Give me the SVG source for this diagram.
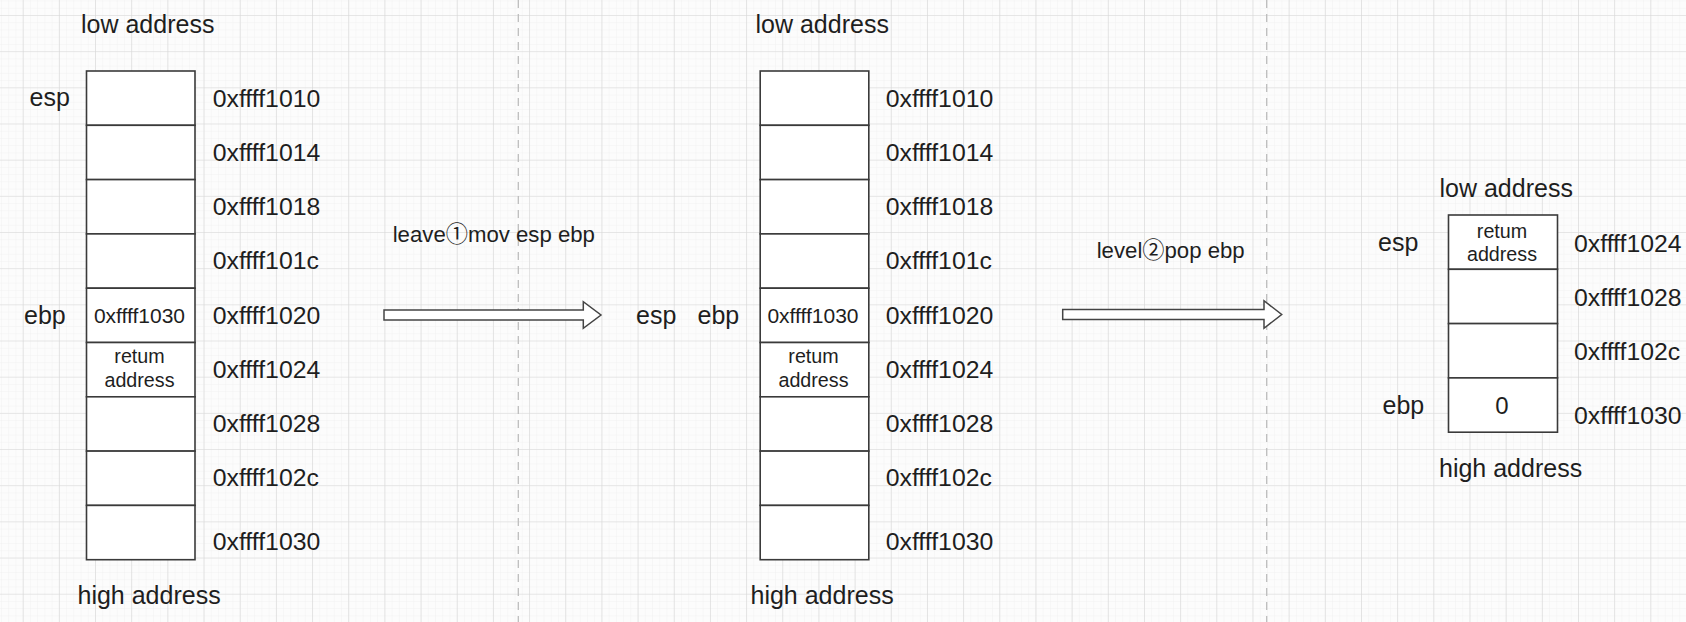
<svg xmlns="http://www.w3.org/2000/svg" width="1686" height="622" viewBox="0 0 1686 622">
<defs>
<pattern id="minor" patternUnits="userSpaceOnUse" x="22.7" y="15" width="7.234" height="7.234">
<path d="M0 0 H7.234 M0 0 V7.234" fill="none" stroke="#efefef" stroke-width="0.8"/>
</pattern>
<pattern id="major" patternUnits="userSpaceOnUse" x="22.7" y="15" width="36.17" height="36.17">
<path d="M0 0 H36.17 M0 0 V36.17" fill="none" stroke="#d6d6d6" stroke-width="1.2"/>
</pattern>
<style>
.cell{fill:#ffffff;stroke:#3a3a3a;stroke-width:1.6}
.t{font-family:"Liberation Sans","Noto Sans CJK SC",sans-serif;fill:#1e1e1e}
.lbl{font-size:25px}
.addr{font-size:24.8px}
.in{font-size:21px;text-anchor:middle}
.zero{font-size:24px;text-anchor:middle}
.sm{font-size:19.7px;text-anchor:middle}
.op{font-size:22.2px}
.arrow{fill:#ffffff;stroke:#444444;stroke-width:1.5;stroke-linejoin:miter}
.sep{stroke:#bdbdbd;stroke-width:1.3;stroke-dasharray:8 6;fill:none}
</style>
</defs>
<rect width="1686" height="622" fill="#fcfcfc"/>
<rect width="1686" height="622" fill="url(#minor)"/>
<rect width="1686" height="622" fill="url(#major)"/>
<line class="sep" x1="518.3" y1="0" x2="518.3" y2="622"/>
<line class="sep" x1="1266.7" y1="0" x2="1266.7" y2="622"/>

<g id="stack1">
<rect class="cell" x="86.5" y="71" width="108.5" height="54.3"/>
<rect class="cell" x="86.5" y="125.3" width="108.5" height="54.3"/>
<rect class="cell" x="86.5" y="179.6" width="108.5" height="54.3"/>
<rect class="cell" x="86.5" y="233.9" width="108.5" height="54.3"/>
<rect class="cell" x="86.5" y="288.2" width="108.5" height="54.3"/>
<rect class="cell" x="86.5" y="342.5" width="108.5" height="54.3"/>
<rect class="cell" x="86.5" y="396.8" width="108.5" height="54.3"/>
<rect class="cell" x="86.5" y="451.1" width="108.5" height="54.3"/>
<rect class="cell" x="86.5" y="505.4" width="108.5" height="54.3"/>
<text class="t lbl" x="81" y="33">low address</text>
<text class="t lbl" x="77.5" y="604">high address</text>
<text class="t lbl" x="29.5" y="106">esp</text>
<text class="t lbl" x="24" y="324">ebp</text>
<text class="t in" x="139.5" y="322.5">0xffff1030</text>
<text class="t sm" x="139.5" y="363">retum</text>
<text class="t sm" x="139.5" y="387">address</text>
<text class="t addr" x="212.7" y="106.7">0xffff1010</text>
<text class="t addr" x="212.7" y="160.5">0xffff1014</text>
<text class="t addr" x="212.7" y="214.5">0xffff1018</text>
<text class="t addr" x="212.7" y="269">0xffff101c</text>
<text class="t addr" x="212.7" y="324">0xffff1020</text>
<text class="t addr" x="212.7" y="377.5">0xffff1024</text>
<text class="t addr" x="212.7" y="431.5">0xffff1028</text>
<text class="t addr" x="212.7" y="485.5">0xffff102c</text>
<text class="t addr" x="212.7" y="549.5">0xffff1030</text>
</g>

<g id="stack2">
<rect class="cell" x="760.2" y="71" width="108.6" height="54.3"/>
<rect class="cell" x="760.2" y="125.3" width="108.6" height="54.3"/>
<rect class="cell" x="760.2" y="179.6" width="108.6" height="54.3"/>
<rect class="cell" x="760.2" y="233.9" width="108.6" height="54.3"/>
<rect class="cell" x="760.2" y="288.2" width="108.6" height="54.3"/>
<rect class="cell" x="760.2" y="342.5" width="108.6" height="54.3"/>
<rect class="cell" x="760.2" y="396.8" width="108.6" height="54.3"/>
<rect class="cell" x="760.2" y="451.1" width="108.6" height="54.3"/>
<rect class="cell" x="760.2" y="505.4" width="108.6" height="54.3"/>
<text class="t lbl" x="755.5" y="33">low address</text>
<text class="t lbl" x="750.5" y="604">high address</text>
<text class="t lbl" x="636" y="324">esp</text>
<text class="t lbl" x="697.5" y="324">ebp</text>
<text class="t in" x="813" y="322.5">0xffff1030</text>
<text class="t sm" x="813.5" y="363">retum</text>
<text class="t sm" x="813.5" y="387">address</text>
<text class="t addr" x="885.7" y="106.7">0xffff1010</text>
<text class="t addr" x="885.7" y="160.5">0xffff1014</text>
<text class="t addr" x="885.7" y="214.5">0xffff1018</text>
<text class="t addr" x="885.7" y="269">0xffff101c</text>
<text class="t addr" x="885.7" y="324">0xffff1020</text>
<text class="t addr" x="885.7" y="377.5">0xffff1024</text>
<text class="t addr" x="885.7" y="431.5">0xffff1028</text>
<text class="t addr" x="885.7" y="485.5">0xffff102c</text>
<text class="t addr" x="885.7" y="549.5">0xffff1030</text>
</g>

<g id="stack3">
<rect class="cell" x="1448.5" y="215" width="109" height="54.3"/>
<rect class="cell" x="1448.5" y="269.3" width="109" height="54.3"/>
<rect class="cell" x="1448.5" y="323.6" width="109" height="54.3"/>
<rect class="cell" x="1448.5" y="377.9" width="109" height="54.3"/>
<text class="t lbl" x="1439.5" y="197">low address</text>
<text class="t lbl" x="1439" y="477">high address</text>
<text class="t lbl" x="1378" y="251">esp</text>
<text class="t lbl" x="1382.5" y="413.5">ebp</text>
<text class="t sm" x="1502" y="237.5">retum</text>
<text class="t sm" x="1502" y="261">address</text>
<text class="t zero" x="1502" y="413.5">0</text>
<text class="t addr" x="1574" y="251.5">0xffff1024</text>
<text class="t addr" x="1574" y="306">0xffff1028</text>
<text class="t addr" x="1574" y="360">0xffff102c</text>
<text class="t addr" x="1574" y="424">0xffff1030</text>
</g>

<g id="connectors">
<g id="step1">
<polygon class="arrow" points="384,310 583.3,310 583.3,301.7 601,315 583.3,328.3 583.3,320 384,320"/>
<text class="t op" x="392.7" y="241.7">leave①mov esp ebp</text>
</g>
<g id="step2">
<polygon class="arrow" points="1062.7,309.5 1264,309.5 1264,300.7 1281.7,314.5 1264,328.3 1264,319.5 1062.7,319.5"/>
<text class="t op" x="1096.7" y="258.3">level②pop ebp</text>
</g>
</g>
</svg>
